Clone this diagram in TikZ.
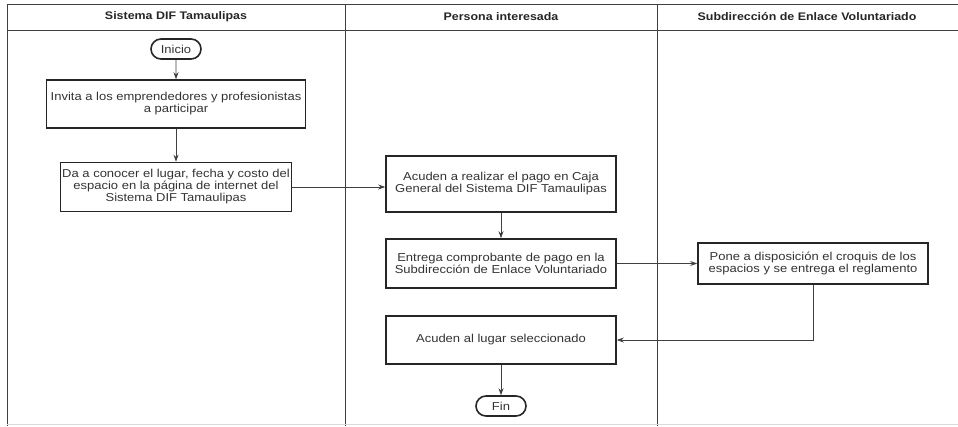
\documentclass[tikz,border=0pt]{standalone}
\usepackage{fontspec}
\setmainfont{Liberation Sans}
\newfontfamily\widefont[FakeStretch=1.13]{Liberation Sans}
\usetikzlibrary{shapes.misc,arrows.meta}
\begin{document}
\begin{tikzpicture}[x=1pt,y=-1pt,
  lane/.style={draw=black!75,line width=0.9pt},
  proc/.style={draw=black!85,line width=1.6pt,align=center,inner sep=1pt,font=\widefont\fontsize{11.5}{12}\selectfont,text=black!80},
  term/.style={draw=black!85,line width=1.6pt,rounded rectangle,minimum width=52pt,minimum height=20pt,inner sep=1pt,font=\widefont\fontsize{11.5}{12}\selectfont,text=black!80},
  head/.style={font=\widefont\fontsize{11}{12}\bfseries\selectfont,text=black!85},
  flow/.style={draw=black!75,line width=0.8pt,-{Stealth[length=7pt,width=5pt]}}
]
\useasboundingbox (0,0) rectangle (958,426);
% lanes
\draw[lane] (958,4) -- (7,4) -- (7,426);
\draw[lane] (7,30) -- (958,30);
\draw[lane] (345,4) -- (345,426);
\draw[lane] (657,4) -- (657,426);
\draw[draw=black!15,line width=0.8pt] (7,424) -- (958,424);
\node[head] (h1) at (176,17) {Sistema DIF Tamaulipas};
\node[head] (h2) at (501,17) {Persona interesada};
\node[head] (h3) at (807,17) {Subdirección de Enlace Voluntariado};
% nodes
\node[term] (ini) at (176,49) {Inicio};
\node[proc,minimum width=259pt,minimum height=48pt] (b1) at (176,104) {Invita a los emprendedores y profesionistas\\a participar};
\node[proc,minimum width=231pt,minimum height=49pt] (b2) at (176,187) {Da a conocer el lugar, fecha y costo del\\espacio en la página de internet del\\Sistema DIF Tamaulipas};
\node[proc,minimum width=230pt,minimum height=56pt] (b3) at (501,184) {Acuden a realizar el pago en Caja\\General del Sistema DIF Tamaulipas};
\node[proc,minimum width=230pt,minimum height=49pt] (b4) at (501,263.5) {Entrega comprobante de pago en la\\Subdirección de Enlace Voluntariado};
\node[proc,minimum width=230pt,minimum height=41pt] (b5) at (813,263.5) {Pone a disposición el croquis de los\\espacios y se entrega el reglamento};
\node[proc,minimum width=230pt,minimum height=48pt] (b6) at (501,340) {Acuden al lugar seleccionado};
\node[term] (fin) at (501,406) {Fin};
% connectors
\draw[flow] (ini) -- (b1);
\draw[flow] (b1) -- (b2);
\draw[flow] (b2.east) -- (b2.east -| b3.west);
\draw[flow] (b3) -- (b4);
\draw[flow] (b4.east) -- (b4.east -| b5.west);
\draw[flow] (b5.south) |- (b6.east);
\draw[flow] (b6) -- (fin);
\end{tikzpicture}
\end{document}
